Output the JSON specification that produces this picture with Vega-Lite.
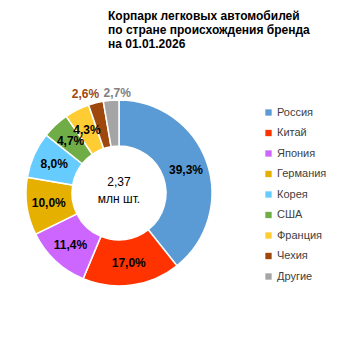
{
  "$schema": "https://vega.github.io/schema/vega-lite/v6.json",
  "width": 238,
  "height": 320,
  "autosize": "none",
  "padding": {"left": 0, "top": 33, "right": 115, "bottom": 0},
  "background": "white",
  "title": {
    "text": ["Корпарк легковых автомобилей", "по стране происхождения бренда", "на 01.01.2026"],
    "anchor": "start",
    "frame": "group",
    "orient": "top",
    "font": "Liberation Sans",
    "fontSize": 12,
    "fontWeight": "bold",
    "color": "#000000",
    "lineHeight": 14,
    "dx": 108,
    "dy": 22
  },
  "data": {
    "values": [
      {"country": "Россия", "share": 39.3, "label": "39,3%", "order": 1, "pos": "in"},
      {"country": "Китай", "share": 17.0, "label": "17,0%", "order": 2, "pos": "in"},
      {"country": "Япония", "share": 11.4, "label": "11,4%", "order": 3, "pos": "in"},
      {"country": "Германия", "share": 10.0, "label": "10,0%", "order": 4, "pos": "in"},
      {"country": "Корея", "share": 8.0, "label": "8,0%", "order": 5, "pos": "in"},
      {"country": "США", "share": 4.7, "label": "4,7%", "order": 6, "pos": "in"},
      {"country": "Франция", "share": 4.3, "label": "4,3%", "order": 7, "pos": "in"},
      {"country": "Чехия", "share": 2.6, "label": "2,6%", "order": 8, "pos": "out"},
      {"country": "Другие", "share": 2.7, "label": "2,7%", "order": 9, "pos": "out"}
    ]
  },
  "encoding": {
    "theta": {"field": "share", "type": "quantitative", "stack": true},
    "order": {"field": "order", "type": "quantitative"},
    "color": {
      "field": "country",
      "type": "nominal",
      "sort": ["Россия", "Китай", "Япония", "Германия", "Корея", "США", "Франция", "Чехия", "Другие"],
      "scale": {
        "domain": ["Россия", "Китай", "Япония", "Германия", "Корея", "США", "Франция", "Чехия", "Другие"],
        "range": ["#5B9BD5", "#FF3300", "#CC66FF", "#E6B000", "#66CCFF", "#70AD47", "#FFCC33", "#9E480E", "#A5A5A5"]
      },
      "legend": {
        "title": null,
        "orient": "none",
        "legendX": 263,
        "legendY": 74,
        "symbolType": "square",
        "symbolSize": 40,
        "symbolStrokeWidth": 0,
        "labelFont": "Liberation Sans",
        "labelFontSize": 11,
        "labelColor": "#404040",
        "labelOffset": 3,
        "rowPadding": 8.5
      }
    }
  },
  "layer": [
    {
      "mark": {"type": "arc", "outerRadius": 93, "innerRadius": 47, "stroke": "white", "strokeWidth": 1.5}
    },
    {
      "mark": {"type": "text", "radius": 71, "font": "Liberation Sans", "fontSize": 12, "fontWeight": "bold"},
      "encoding": {
        "text": {"condition": {"test": "datum.pos === 'in'", "field": "label"}, "value": ""},
        "color": {"value": "#000000"}
      }
    },
    {
      "mark": {"type": "text", "radius": 103, "dx": -8, "dy": 1, "font": "Liberation Sans", "fontSize": 12, "fontWeight": "bold"},
      "encoding": {
        "text": {"condition": {"test": "datum.country === 'Чехия'", "field": "label"}, "value": ""},
        "color": {"value": "#9E480E"}
      }
    },
    {
      "mark": {"type": "text", "radius": 103, "dx": 7, "dy": 3, "font": "Liberation Sans", "fontSize": 12, "fontWeight": "bold"},
      "encoding": {
        "text": {"condition": {"test": "datum.country === 'Другие'", "field": "label"}, "value": ""},
        "color": {"value": "#808080"}
      }
    },
    {
      "data": {"values": [{"t": ["2,37", "млн шт."]}]},
      "mark": {"type": "text", "font": "Liberation Sans", "fontSize": 12, "fontWeight": "normal", "lineHeight": 17, "dy": -11, "color": "#000000"},
      "encoding": {
        "text": {"field": "t"},
        "theta": null,
        "order": null,
        "color": null
      }
    }
  ]
}
